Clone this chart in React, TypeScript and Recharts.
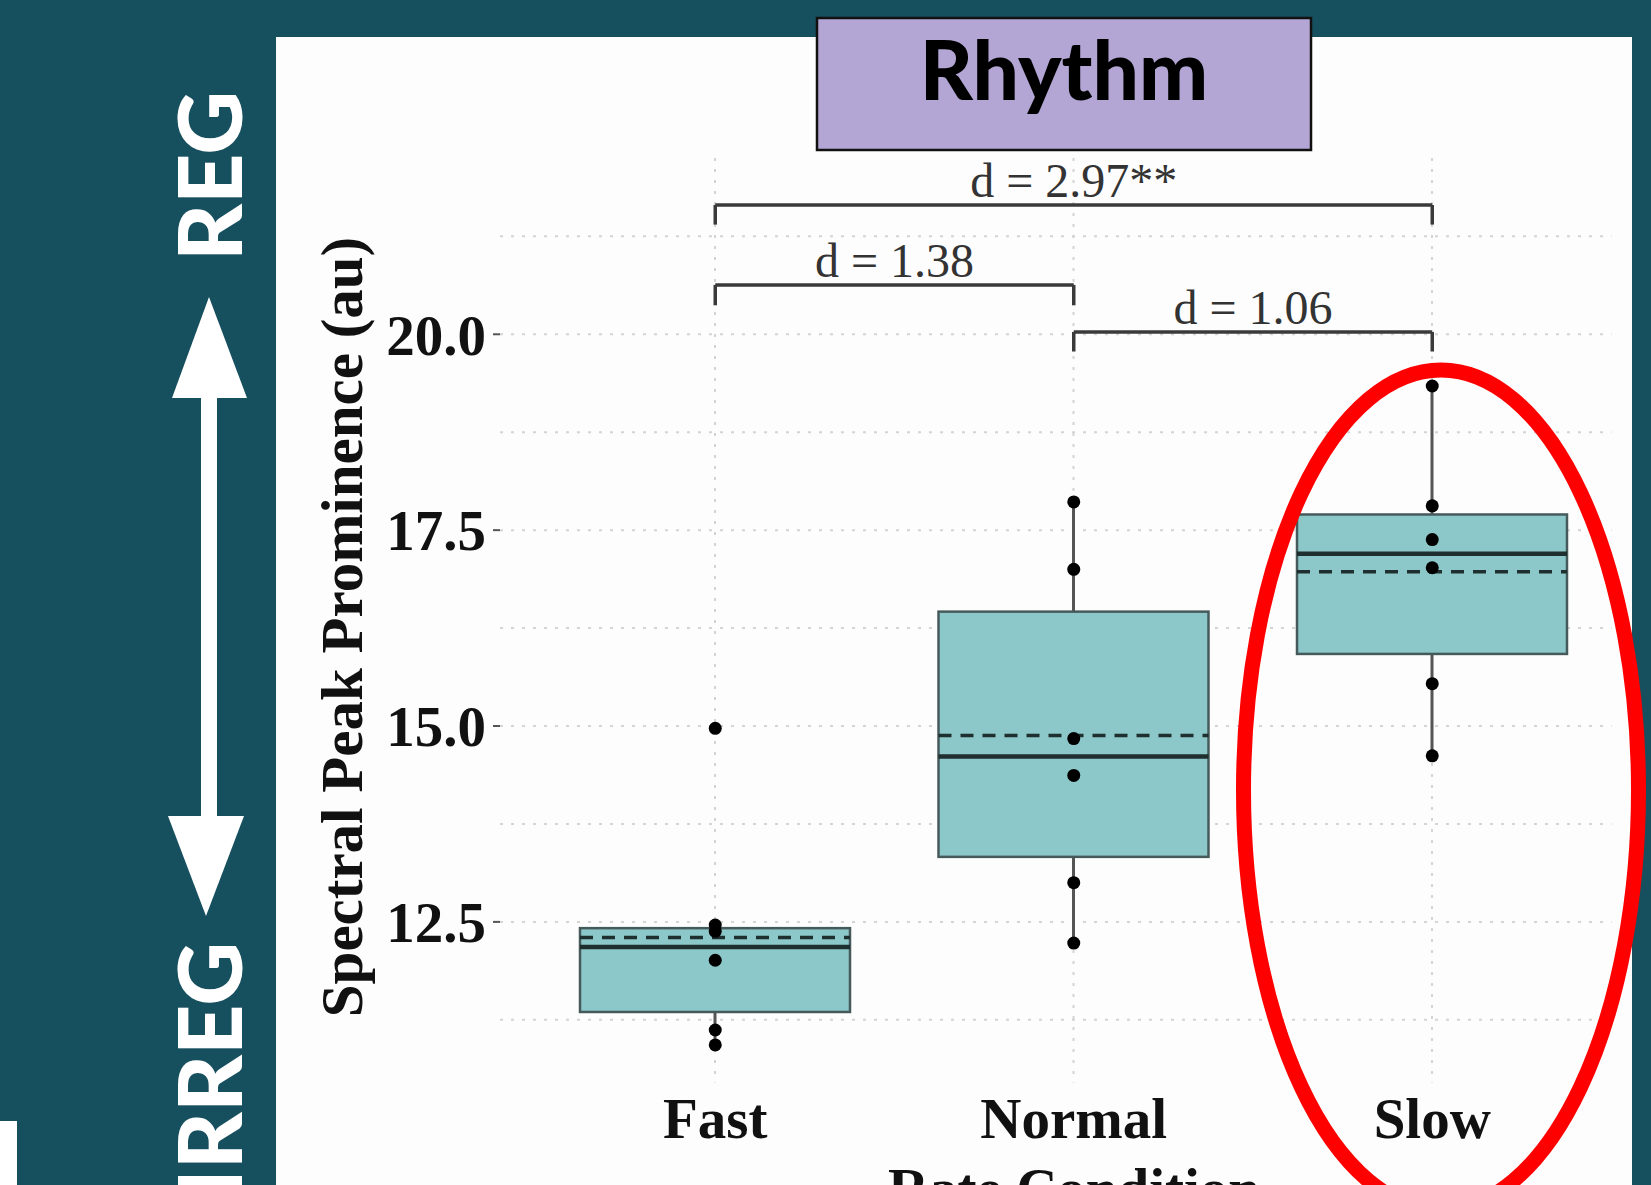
import { Bar, CartesianGrid, ComposedChart, ReferenceLine, Scatter, XAxis, YAxis } from "recharts";

// rate conditions and box statistics
const CONDITIONS = ["Fast", "Normal", "Slow"];
const Q1 = [11.35, 13.33, 15.92];
const MEDIAN = [12.18, 14.61, 17.2];
const Q3 = [12.42, 16.46, 17.7];
const MEAN = [12.3, 14.88, 16.97];
const WHISKER_LO = [10.93, 12.23, 14.62];
const WHISKER_HI = [12.46, 17.86, 19.34];
const POINTS = [
  [14.97, 12.46, 12.38, 12.01, 11.12, 10.93],
  [17.86, 17.0, 14.84, 14.37, 13.0, 12.23],
  [19.34, 17.81, 17.38, 17.02, 15.54, 14.62],
];

const Y_TICKS = [12.5, 15, 17.5, 20];
const Y_GRID = [11.25, 12.5, 13.75, 15, 16.25, 17.5, 18.75, 20, 21.25];

// effect size brackets: from, to, bar level, tip level, label
const BRACKET_FROM = ["Fast", "Fast", "Normal"];
const BRACKET_TO = ["Slow", "Normal", "Slow"];
const BRACKET_LEVEL = [21.65, 20.63, 20.03];
const BRACKET_TIP = [21.4, 20.37, 19.78];
const BRACKET_LABEL = ["d = 2.97**", "d = 1.38", "d = 1.06"];

const boxes = CONDITIONS.map((cond, i) => ({
  cond,
  whisker: [WHISKER_LO[i], WHISKER_HI[i]],
  q1: Q1[i],
  median: MEDIAN[i],
  q3: Q3[i],
  mean: MEAN[i],
}));

const points = CONDITIONS.flatMap((cond, i) => POINTS[i].map((value) => ({ cond, value })));

const SERIF = "'Liberation Serif', 'Times New Roman', serif";
const SANS = "Lato, 'Open Sans', sans-serif";
const GRID = "#d4d4d4";

function BoxShape(props: any) {
  const { x, y, width, height, payload } = props;
  const [lo, hi] = payload.whisker;
  const top = Math.min(y, y + height);
  const h = Math.abs(height);
  const k = h / (hi - lo);
  const py = (v: number) => top + (hi - v) * k;
  const cx = x + width / 2;
  return (
    <g>
      <line x1={cx} x2={cx} y1={py(hi)} y2={py(lo)} stroke="#555" strokeWidth={3} />
      <rect x={x} y={py(payload.q3)} width={width} height={py(payload.q1) - py(payload.q3)} fill="#8cc8c9" stroke="#465a5b" strokeWidth={2.5} />
      <line x1={x} x2={x + width} y1={py(payload.median)} y2={py(payload.median)} stroke="#1f2e2f" strokeWidth={4.5} />
      <line x1={x} x2={x + width} y1={py(payload.mean)} y2={py(payload.mean)} stroke="#1f2e2f" strokeWidth={3.5} strokeDasharray="13 9" />
    </g>
  );
}

// vertical dotted grid line through each category, drawn behind the boxes
function CategoryGridLine(props: any) {
  const cx = props.x + props.width / 2;
  return <line x1={cx} x2={cx} y1={props.y} y2={props.y + props.height} stroke={GRID} strokeWidth={2} strokeDasharray="3 8" />;
}

function PointShape(props: any) {
  return <circle cx={props.cx} cy={props.cy} r={6.5} fill="#000" />;
}

function Decorations() {
  return (
    <svg width={1651} height={1185} style={{ position: "absolute", left: 0, top: 0, pointerEvents: "none" }}>
      {/* axis titles */}
      <text x={362} y={627} transform="rotate(-90 362 627)" textAnchor="middle" fontFamily={SERIF} fontWeight={700} fontSize={59} fill="#111">
        Spectral Peak Prominence (au)
      </text>
      <text x={1074} y={1208} textAnchor="middle" fontFamily={SERIF} fontWeight={700} fontSize={57} fill="#111">
        Rate Condition
      </text>

      {/* title box */}
      <rect x={817} y={18} width={494} height={132} fill="#b3a6d5" stroke="#111" strokeWidth={2.5} />
      <text x={1064} y={100} textAnchor="middle" fontFamily={SANS} fontWeight={900} fontSize={82} fill="#000">
        Rhythm
      </text>

      {/* regularity arrow */}
      <polygon points="209,297 247,398 172,398" fill="#fff" />
      <rect x={201} y={396} width={16} height={422} fill="#fff" />
      <polygon points="168,816 244,816 206,916" fill="#fff" />
      <text x={242} y={176} transform="rotate(-90 242 176)" textAnchor="middle" fontFamily={SANS} fontWeight={900} fontSize={88} fill="#fff">
        REG
      </text>
      <text x={242} y={942} transform="rotate(-90 242 942)" textAnchor="end" fontFamily={SANS} fontWeight={900} fontSize={88} fill="#fff">
        IRREG
      </text>

      {/* highlight */}
      <ellipse cx={1441} cy={790} rx={197.5} ry={420} fill="none" stroke="#ff0000" strokeWidth={15} />
    </svg>
  );
}

export default function App() {
  return (
    <div style={{ position: "absolute", left: 0, top: 0, width: 1651, height: 1185, background: "#164f5e", overflow: "hidden" }}>
      <div style={{ position: "absolute", left: 276, top: 37, width: 1356, height: 1148, background: "#fdfdfd" }} />
      <div style={{ position: "absolute", left: 0, top: 1121, width: 17, height: 64, background: "#fff" }} />
      <div style={{ position: "absolute", left: 0, top: 0 }}>
        <ComposedChart width={1651} height={1185} data={boxes} margin={{ top: 158, right: 39.5, bottom: 42.5, left: 0 }}>
          <CartesianGrid vertical={false} horizontalValues={Y_GRID} stroke={GRID} strokeWidth={2} strokeDasharray="3 8" />
          <XAxis
            dataKey="cond"
            allowDuplicatedCategory={false}
            padding={{ left: 36, right: 0 }}
            height={60}
            tickLine={false}
            axisLine={false}
            tickSize={0}
            tickMargin={15}
            tick={{ fontSize: 57, fontWeight: 700, fill: "#111", fontFamily: SERIF } as never}
          />
          <YAxis
            type="number"
            domain={[10.45, 22.25]}
            allowDataOverflow
            ticks={Y_TICKS}
            tickFormatter={(v: number) => v.toFixed(1)}
            width={500}
            axisLine={false}
            tickSize={7}
            tickMargin={7}
            tickLine={{ stroke: "#555", strokeWidth: 2 }}
            tick={{ fontSize: 57, fontWeight: 700, fill: "#111", fontFamily: SERIF } as never}
          />
          <Bar dataKey="whisker" barSize={270} shape={BoxShape} background={CategoryGridLine} isAnimationActive={false} />
          <Scatter data={points} dataKey="value" shape={PointShape} isAnimationActive={false} />
          {BRACKET_LABEL.map((label, i) => (
            <ReferenceLine
              key={"h" + i}
              segment={[
                { x: BRACKET_FROM[i], y: BRACKET_LEVEL[i] },
                { x: BRACKET_TO[i], y: BRACKET_LEVEL[i] },
              ]}
              stroke="#3a3a3a"
              strokeWidth={3.5}
              label={{ value: label, position: "top", offset: 8, fill: "#333", fontSize: 48, fontFamily: SERIF }}
            />
          ))}
          {BRACKET_LABEL.flatMap((_, i) =>
            [BRACKET_FROM[i], BRACKET_TO[i]].map((c, j) => (
              <ReferenceLine
                key={"t" + i + j}
                segment={[
                  { x: c, y: BRACKET_LEVEL[i] },
                  { x: c, y: BRACKET_TIP[i] },
                ]}
                stroke="#3a3a3a"
                strokeWidth={3.5}
              />
            ))
          )}
        </ComposedChart>
      </div>
      <Decorations />
    </div>
  );
}
